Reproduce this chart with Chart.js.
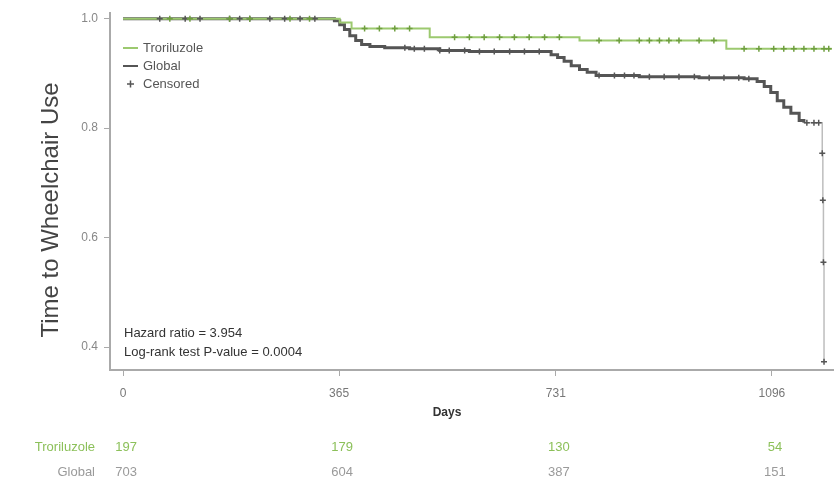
<!DOCTYPE html>
<html><head><meta charset="utf-8">
<script src="https://cdn.jsdelivr.net/npm/chart.js@4"></script>
<style>html,body{margin:0;padding:0;background:#fff}#wrap{width:839px;height:483px}</style>
</head><body><div id="wrap"><canvas id="c" width="839" height="483"></canvas></div>
<script>
// ---- data ----
const xTicks = [0, 365, 731, 1096];
const yTicks = [0.4, 0.6, 0.8, 1.0];

const troDays = [0, 366, 386, 518, 771, 1019, 1197];
const troSurv = [1.0, 0.993, 0.982, 0.966, 0.960, 0.945, 0.945];

const gloDays = [0, 357, 366, 374, 383, 393, 403, 417, 442, 484, 535, 585, 723, 734, 745, 757, 771, 784, 799, 872, 973, 1049, 1071, 1083, 1094, 1105, 1116, 1128, 1142, 1150, 1181, 1182, 1183, 1184];
const gloSurv = [1.0, 0.996, 0.989, 0.980, 0.969, 0.960, 0.953, 0.949, 0.947, 0.945, 0.942, 0.940, 0.934, 0.929, 0.922, 0.914, 0.907, 0.902, 0.896, 0.894, 0.892, 0.890, 0.885, 0.876, 0.865, 0.850, 0.838, 0.827, 0.814, 0.810, 0.754, 0.668, 0.555, 0.373];

const troCensor = [79, 113, 180, 214, 282, 315, 408, 433, 459, 484, 560, 585, 610, 636, 661, 686, 712, 737, 804, 838, 872, 889, 906, 922, 939, 973, 998, 1049, 1074, 1099, 1116, 1133, 1150, 1167, 1184, 1192];
const gloCensor = [62, 105, 130, 180, 197, 214, 248, 273, 299, 324, 476, 492, 509, 535, 551, 577, 602, 627, 653, 678, 703, 804, 830, 847, 863, 889, 914, 939, 965, 990, 1015, 1040, 1057, 1155, 1167, 1175, 1181, 1182, 1183, 1184];

const groupNames = ['Troriluzole', 'Global'];
const riskTro = [197, 179, 130, 54];
const riskGlo = [703, 604, 387, 151];
const statLines = ['Hazard ratio = 3.954', 'Log-rank test P-value = 0.0004'];
const yTitle = 'Time to Wheelchair Use';
const xTitle = 'Days';

// ---- helpers ----
const GREEN = '#9cc96f', GREEN_DK = '#6f9f3f', GREY = '#555555';
function survAt(days, surv, d){ let v = surv[0]; for (let i=0;i<days.length;i++){ if (days[i] <= d) v = surv[i]; } return v; }
const pts = (days, surv) => days.map((d,i)=>({x:d, y:surv[i]}));
const cens = (cd, days, surv) => cd.map(d=>({x:d, y:survAt(days, surv, d)}));

const FONT = 'Liberation Sans, Arial, sans-serif';

const overlay = {
  id: 'overlay',
  afterDraw(chart){
    const ctx = chart.ctx, xs = chart.scales.x;
    ctx.save();
    // y title
    ctx.fillStyle = '#444';
    ctx.font = '24px ' + FONT;
    ctx.textAlign = 'center'; ctx.textBaseline = 'middle';
    ctx.translate(51, 210); ctx.rotate(-Math.PI/2);
    ctx.fillText(yTitle, 0, 0);
    ctx.setTransform(1,0,0,1,0,0);
    // x title
    ctx.font = 'bold 12px ' + FONT;
    ctx.fillStyle = '#333';
    ctx.fillText(xTitle, 447, 413);
    // legend
    ctx.textAlign = 'left';
    ctx.font = '13px ' + FONT;
    ctx.fillStyle = '#555';
    ctx.lineWidth = 2;
    ctx.strokeStyle = GREEN; ctx.beginPath(); ctx.moveTo(123,48); ctx.lineTo(138,48); ctx.stroke();
    ctx.fillText(groupNames[0], 143, 48);
    ctx.strokeStyle = GREY; ctx.beginPath(); ctx.moveTo(123,66); ctx.lineTo(138,66); ctx.stroke();
    ctx.fillText(groupNames[1], 143, 66);
    ctx.lineWidth = 1.5;
    ctx.beginPath(); ctx.moveTo(127,84); ctx.lineTo(134,84); ctx.moveTo(130.5,80.5); ctx.lineTo(130.5,87.5); ctx.stroke();
    ctx.fillText('Censored', 143, 84);
    // stats
    ctx.fillStyle = '#333';
    ctx.fillText(statLines[0], 124, 333);
    ctx.fillText(statLines[1], 124, 352);
    // risk table
    ctx.font = '13px ' + FONT;
    ctx.textAlign = 'right';
    ctx.fillStyle = '#8cc05a';
    ctx.fillText(groupNames[0], 95, 447);
    ctx.fillStyle = '#9a9a9a';
    ctx.fillText(groupNames[1], 95, 472);
    ctx.textAlign = 'center';
    xTicks.forEach((t,i)=>{
      const px = xs.getPixelForValue(t) + 3;
      ctx.fillStyle = '#8cc05a'; ctx.fillText(String(riskTro[i]), px, 447);
      ctx.fillStyle = '#9a9a9a'; ctx.fillText(String(riskGlo[i]), px, 472);
    });
    ctx.restore();
  }
};

new Chart(document.getElementById('c'), {
  type: 'line',
  data: {
    datasets: [
      { label: groupNames[0] + ' censored', data: cens(troCensor, troDays, troSurv), showLine: false,
        pointStyle: 'cross', pointRadius: 3, borderColor: GREEN_DK, backgroundColor: GREEN_DK, borderWidth: 1.5, order: 0 },
      { label: groupNames[1] + ' censored', data: cens(gloCensor, gloDays, gloSurv), showLine: false,
        pointStyle: 'cross', pointRadius: 3, borderColor: GREY, backgroundColor: GREY, borderWidth: 1.5, order: 1 },
      { label: groupNames[0], data: pts(troDays, troSurv), stepped: true, borderColor: GREEN, borderWidth: 2,
        pointRadius: 0, fill: false, order: 2 },
      { label: groupNames[1], data: pts(gloDays, gloSurv), stepped: true, borderColor: GREY, borderWidth: 3,
        pointRadius: 0, fill: false, order: 3,
        segment: {
          borderColor: c => c.p1.parsed.y < 0.8 ? '#bdbdbd' : undefined,
          borderWidth: c => c.p1.parsed.y < 0.8 ? 1.5 : undefined
        } }
    ]
  },
  options: {
    responsive: false, animation: false, devicePixelRatio: 1,
    layout: { padding: { top: 4, right: 4, left: 0, bottom: 0 } },
    plugins: { legend: { display: false }, tooltip: { enabled: false } },
    scales: {
      x: {
        type: 'linear', min: -22, max: 1200,
        afterBuildTicks: s => { s.ticks = xTicks.map(v=>({value:v})); },
        afterFit: s => { s.height = 113; },
        grid: { drawOnChartArea: false, drawTicks: true, tickLength: 6, color: '#aaa' },
        border: { color: '#aaa', width: 2 },
        ticks: { color: '#777', font: { size: 12, family: FONT }, padding: 10, maxRotation: 0, callback: v => String(v) }
      },
      y: {
        min: 0.358, max: 1.010,
        afterBuildTicks: s => { s.ticks = yTicks.map(v=>({value:v})); },
        afterFit: s => { s.width = 110; },
        grid: { drawOnChartArea: false, drawTicks: true, tickLength: 6, color: '#aaa' },
        border: { color: '#aaa', width: 2 },
        ticks: { color: '#888', font: { size: 12, family: FONT }, padding: 6, callback: v => Number(v).toFixed(1) }
      }
    }
  },
  plugins: [overlay]
});
</script></body></html>
